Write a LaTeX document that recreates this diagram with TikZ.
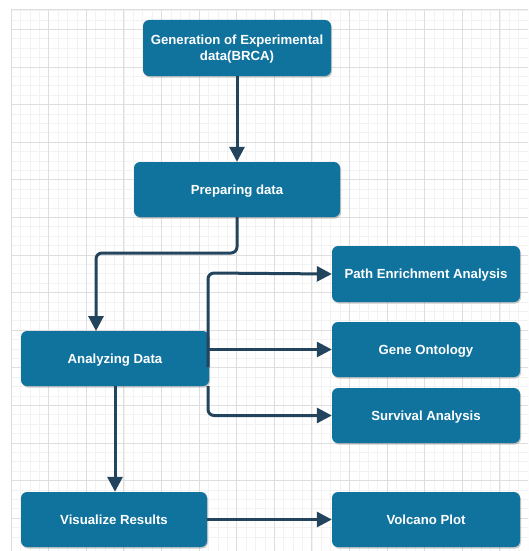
\documentclass[tikz,border=0pt]{standalone}
\usepackage{fontspec}
\setmainfont{Liberation Sans}
\usetikzlibrary{shadows,arrows.meta}
\definecolor{boxfill}{HTML}{10739E}
\definecolor{arrowc}{HTML}{23445D}
\definecolor{gridminor}{HTML}{F2F2F2}
\definecolor{gridmajor}{HTML}{DEDEDE}
\newcommand\mystrut{\rule[-2.6pt]{0pt}{14.6pt}}
\tikzset{
  box/.style={draw=none, fill=boxfill, rounded corners=6pt, text=white,
    font=\fontsize{13.2}{16}\selectfont\bfseries, align=center,
    drop shadow={shadow xshift=1pt, shadow yshift=-1.5pt, opacity=0.35, fill=black!60}},
  conn/.style={draw=arrowc, line width=3pt, rounded corners=6pt,
    -{Triangle[length=15pt,width=15pt]}},
}
\begin{document}
\begin{tikzpicture}[x=1pt,y=-1pt]
\useasboundingbox (0,0) rectangle (528,551);
\fill[white] (0,0) rectangle (528,551);
% grid
\begin{scope}
\clip (11,9) rectangle (528,551);
\foreach \i in {0,...,56} {
  \draw[gridminor, line width=0.6pt] ({11+9.4*\i},9) -- ({11+9.4*\i},551);
  \draw[gridminor, line width=0.6pt] (11,{10.5+9.4*\i}) -- (528,{10.5+9.4*\i});
}
\foreach \i in {0,...,14} {
  \draw[gridmajor, line width=0.7pt] ({11+37.6*\i},9) -- ({11+37.6*\i},551);
  \draw[gridmajor, line width=0.7pt] (11,{29.3+37.6*\i}) -- (528,{29.3+37.6*\i});
}
\draw[gridmajor, line width=0.7pt] (11,9) -- (528,9);
\end{scope}
% boxes
\node[box, minimum width=188pt, minimum height=56pt] (gen) at (237,48) {\mystrut Generation of Experimental\\\mystrut data(BRCA)};
\node[box, minimum width=206pt, minimum height=55pt] (prep) at (237,189.5) {\mystrut Preparing data};
\node[box, minimum width=188pt, minimum height=55pt] (ana) at (115,358.5) {\mystrut Analyzing Data};
\node[box, minimum width=188pt, minimum height=56pt] (path) at (426,274) {\mystrut Path Enrichment Analysis};
\node[box, minimum width=188pt, minimum height=55pt] (gene) at (426,349.5) {\mystrut Gene Ontology};
\node[box, minimum width=188pt, minimum height=55pt] (surv) at (426,415.5) {\mystrut Survival Analysis};
\node[box, minimum width=186pt, minimum height=55pt] (vis) at (114,519.5) {\mystrut Visualize Results};
\node[box, minimum width=188pt, minimum height=55pt] (volc) at (426,519.5) {\mystrut Volcano Plot};
% connectors
\coordinate (b1) at (208,367);
\coordinate (b2) at (208,386);
\draw[conn] (gen.south) -- (prep.north);
\draw[conn] (prep.south) -- (237,253) -- (96,253) -- (96,331);
\draw[conn] (b1) -- (208,273) -- (path.west);
\draw[conn] (ana.east |- gene.west) -- (gene.west);
\draw[conn] (b2) -- (208,415.5) -- (surv.west);
\draw[conn] (ana.south) -- (vis.north -| ana.south);
\draw[conn] (vis.east) -- (volc.west);
\end{tikzpicture}
\end{document}
